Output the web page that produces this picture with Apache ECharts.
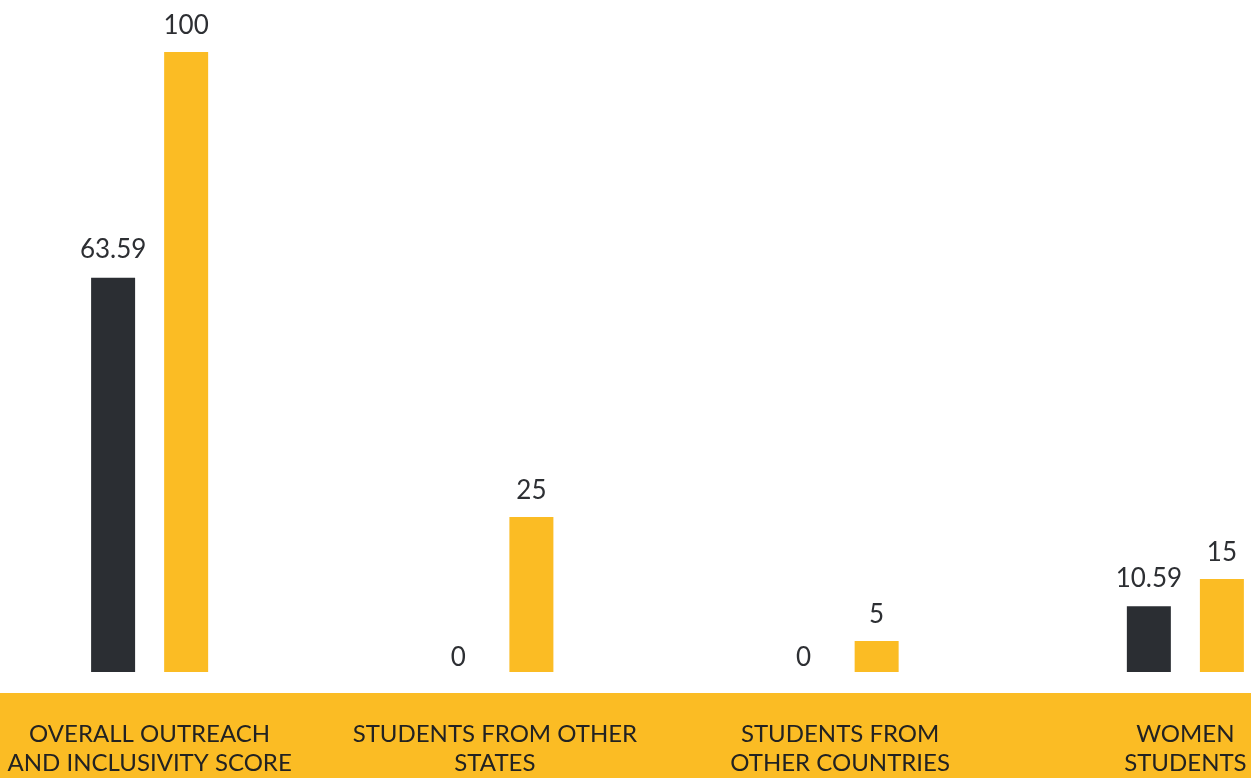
<!DOCTYPE html>
<html>
<head>
<meta charset="utf-8">
<script src="https://cdn.jsdelivr.net/npm/echarts@6/dist/echarts.min.js"></script>
<style>
  html, body { margin: 0; padding: 0; background: #fff; overflow: hidden; }
  #main { width: 1381px; height: 778px; position: absolute; left: -23px; top: 0; }
</style>
</head>
<body>
<div id="main"></div>
<script>
// categories (bottom band labels)
var categories = [
  'OVERALL OUTREACH\nAND INCLUSIVITY SCORE',
  'STUDENTS FROM OTHER\nSTATES',
  'STUDENTS FROM\nOTHER COUNTRIES',
  'WOMEN\nSTUDENTS'
];
// scored vs maximum
var scored = [63.59, 0, 0, 10.59];
var maxMarks = [100, 25, 5, 15];

var dark = '#2b2e33';
var yellow = '#fbbc24';

// zero bars sit their label right on the baseline
var scoredData = scored.map(function (v) {
  return v === 0 ? { value: v, label: { distance: 1 } } : v;
});

var myChart = echarts.init(document.getElementById('main'));
myChart.setOption({
  animation: false,
  textStyle: { fontFamily: 'Lato' },
  graphic: [{
    type: 'rect',
    z: -10,
    shape: { x: 0, y: 693, width: 1381, height: 85 },
    style: { fill: yellow }
  }],
  grid: { left: 0, right: 0, top: 52, bottom: 103 },
  xAxis: {
    type: 'category',
    data: categories,
    axisLine: { show: false },
    axisTick: { show: false },
    axisLabel: {
      margin: 48,
      fontSize: 24,
      lineHeight: 29,
      color: '#222',
      fontFamily: 'Lato',
      interval: 0
    }
  },
  yAxis: { type: 'value', min: 0, max: 100, show: false },
  series: [{
    type: 'bar',
    data: scoredData,
    barWidth: 44,
    barGap: '66%',
    itemStyle: { color: dark },
    label: { show: true, position: 'top', distance: 15, fontSize: 26, color: '#2d2f33', fontFamily: 'Lato' }
  }, {
    type: 'bar',
    data: maxMarks,
    barWidth: 44,
    itemStyle: { color: yellow },
    label: { show: true, position: 'top', distance: 13, fontSize: 26, color: '#2d2f33', fontFamily: 'Lato' }
  }]
});
</script>
</body>
</html>
